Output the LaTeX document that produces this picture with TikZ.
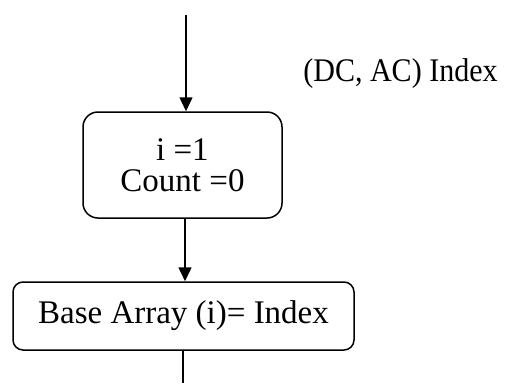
\documentclass[tikz,border=0pt]{standalone}
\usepackage{fontspec}
\setmainfont{Liberation Serif}
\newfontfamily\narrowserif[FakeStretch=0.91]{Liberation Serif}
\usetikzlibrary{arrows.meta}
\begin{document}
\begin{tikzpicture}[x=1pt,y=-1pt,
  line width=1.5pt,
  flowbox/.style={draw,rounded corners=#1,align=center,inner sep=0pt,
    font=\fontsize{33}{31}\selectfont},
  arr/.style={-{Triangle[length=14pt,width=13pt]}},
  lbl/.style={inner sep=0pt,font=\narrowserif\fontsize{33}{31}\selectfont}]
\useasboundingbox (0,0) rectangle (505,383);
\node[flowbox=15pt,minimum width=199pt,minimum height=106pt] (init) at (182.5,165) {i =1\\Count =0};
\node[flowbox=10pt,minimum width=341pt,minimum height=68pt] (base) at (183.5,316) {Base Array (i)= Index};
\coordinate (start) at (186,15);
\coordinate (exit) at (183,383);
\node[lbl,anchor=base] (idx) at (400.5,81) {(DC, AC) Index};
\draw[arr] (start) -- (start |- init.north);
\draw[arr] ([xshift=2.5pt]init.south) -- ([xshift=1.5pt]base.north);
\draw (base.south -| exit) -- (exit);
\end{tikzpicture}
\end{document}
